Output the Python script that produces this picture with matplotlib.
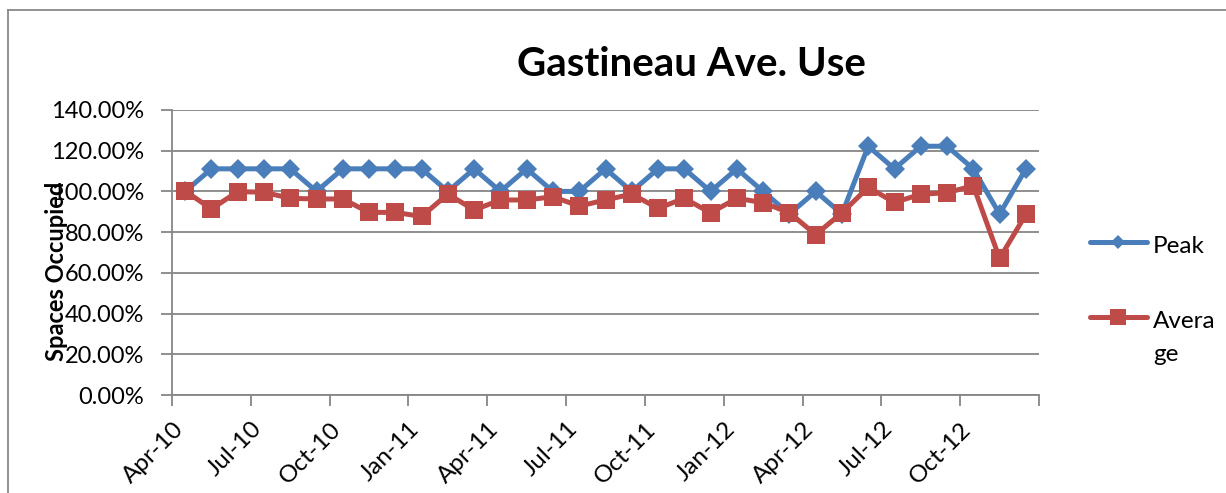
import matplotlib
matplotlib.use("Agg")
import matplotlib.pyplot as plt
from matplotlib.lines import Line2D
import numpy as np

plt.rcParams['font.family'] = ['Lato', 'DejaVu Sans']

# monthly data, Apr-10 .. Dec-12
months = ['Apr-10', 'May-10', 'Jun-10', 'Jul-10', 'Aug-10', 'Sep-10', 'Oct-10', 'Nov-10',
          'Dec-10', 'Jan-11', 'Feb-11', 'Mar-11', 'Apr-11', 'May-11', 'Jun-11', 'Jul-11',
          'Aug-11', 'Sep-11', 'Oct-11', 'Nov-11', 'Dec-11', 'Jan-12', 'Feb-12', 'Mar-12',
          'Apr-12', 'May-12', 'Jun-12', 'Jul-12', 'Aug-12', 'Sep-12', 'Oct-12', 'Nov-12',
          'Dec-12']
peak = [100.0, 111.1, 111.1, 111.1, 111.1, 100.0, 111.1, 111.1, 111.1, 111.1, 100.0,
        111.1, 100.0, 111.1, 100.0, 100.0, 111.1, 100.0, 111.1, 111.1, 100.0, 111.1,
        100.0, 88.9, 100.0, 88.9, 122.2, 111.1, 122.2, 122.2, 111.1, 88.9, 111.1]
average = [100.2, 91.4, 99.9, 99.6, 96.6, 96.3, 96.3, 89.7, 89.7, 87.7, 98.7,
           90.9, 95.8, 95.8, 97.4, 92.8, 95.8, 98.7, 91.7, 96.6, 89.5, 96.6,
           94.5, 89.5, 78.8, 89.5, 102.0, 94.6, 98.6, 99.4, 102.8, 67.1, 88.7]
tick_labels = ['Apr-10', 'Jul-10', 'Oct-10', 'Jan-11', 'Apr-11', 'Jul-11',
               'Oct-11', 'Jan-12', 'Apr-12', 'Jul-12', 'Oct-12']
y_ticks = [0, 20, 40, 60, 80, 100, 120, 140]

BLUE = '#4A7EBB'
RED = '#BE4B48'
GRID = '#868686'

W, H = 1226, 493
fig = plt.figure(figsize=(W / 100, H / 100), dpi=100)
ax = fig.add_axes([172 / W, 1 - 395 / H, (1039 - 172) / W, (395 - 110) / H])

x = np.arange(len(months))
ax.plot(x, peak, color=BLUE, lw=3.6, marker='D', markersize=10.2,
        markeredgewidth=0, solid_joinstyle='round', zorder=3)
ax.plot(x, average, color=RED, lw=3.6, marker='s', markersize=13.3,
        markeredgewidth=0, solid_joinstyle='round', zorder=4)

ax.set_xlim(-0.5, len(months) - 0.5)
ax.set_ylim(0, 140)

# major ticks at quarter boundaries, labels slightly offset like Excel
major = np.arange(-0.5, len(months), 3)
ax.set_xticks(major)
ax.set_xticklabels([])
ax.set_xticks(major[:len(tick_labels)] + 0.3, minor=True)
ax.set_xticklabels(tick_labels, minor=True, rotation=45, ha='right',
                   va='center', rotation_mode='anchor', fontsize=17.5)
ax.tick_params(axis='x', which='major', length=8, width=1.3, color=GRID, direction='out')
ax.tick_params(axis='x', which='minor', length=0, pad=22)

ax.set_yticks(y_ticks)
ax.set_yticklabels(['%.2f%%' % v for v in y_ticks], fontsize=17)
ax.tick_params(axis='y', length=8, width=1.3, color=GRID, pad=12)

ax.grid(axis='y', color=GRID, lw=1.3)
ax.set_axisbelow(True)
for side in ['top', 'right']:
    ax.spines[side].set_visible(False)
for side in ['left', 'bottom']:
    ax.spines[side].set_color(GRID)
    ax.spines[side].set_linewidth(1.3)

fig.text(691 / W, 1 - 76 / H, 'Gastineau Ave. Use', fontsize=29, fontweight='bold',
         ha='center', va='baseline')
fig.text(56 / W, 1 - 271 / H, 'Spaces Occupied', fontsize=17, fontweight='bold',
         rotation=90, ha='center', va='center')

# legend, drawn by hand to get the wrapped label like the original
fig.add_artist(Line2D([1090 / W, 1147 / W], [1 - 242 / H, 1 - 242 / H], color=BLUE,
                      lw=3.6, solid_capstyle='round'))
fig.add_artist(Line2D([1118 / W], [1 - 242 / H], color=BLUE, marker='D',
                      markersize=7.5, markeredgewidth=0))
fig.add_artist(Line2D([1090 / W, 1147 / W], [1 - 317 / H, 1 - 317 / H], color=RED,
                      lw=3.6, solid_capstyle='round'))
fig.add_artist(Line2D([1118 / W], [1 - 317 / H], color=RED, marker='s',
                      markersize=12, markeredgewidth=0))
fig.text(1153 / W, 1 - 253 / H, 'Peak', fontsize=17.5, ha='left', va='baseline')
fig.text(1153 / W, 1 - 328 / H, 'Avera', fontsize=17.5, ha='left', va='baseline')
fig.text(1153 / W, 1 - 361 / H, 'ge', fontsize=17.5, ha='left', va='baseline')

# chart area border (left and top edges visible)
fig.add_artist(Line2D([8 / W, 8 / W], [0, 1 - 10 / H], color='#898989', lw=1.3))
fig.add_artist(Line2D([8 / W, 1], [1 - 10 / H, 1 - 10 / H], color='#898989', lw=1.3))

fig.savefig('out.png', dpi=100)
